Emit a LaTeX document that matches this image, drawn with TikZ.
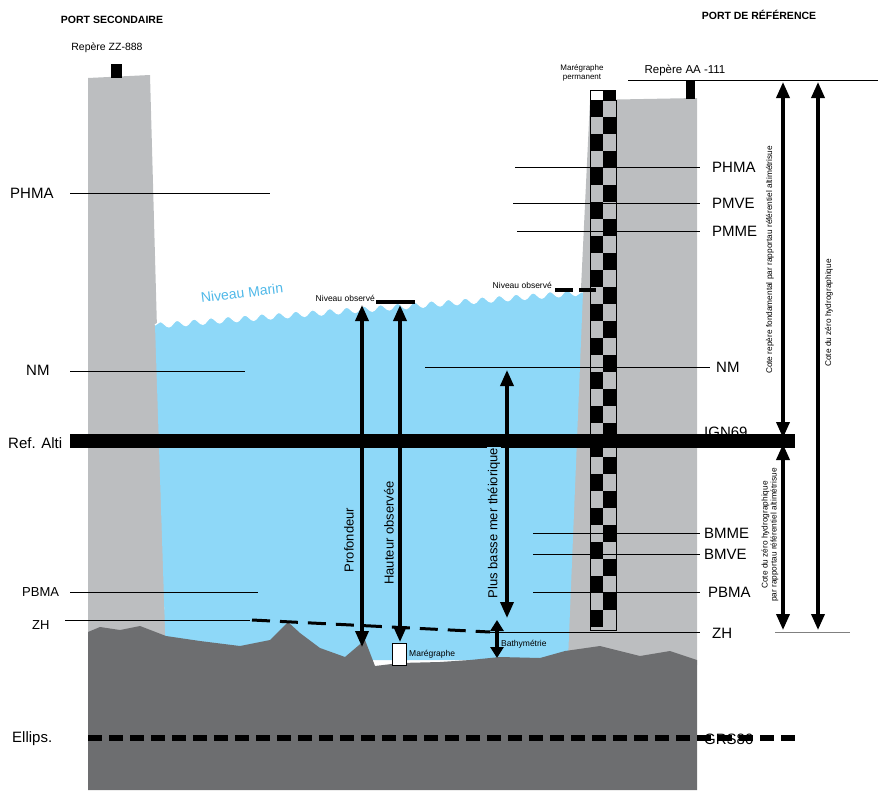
\documentclass[tikz,border=0pt]{standalone}
\usepackage{fontspec}
\setmainfont{Liberation Sans}
\usetikzlibrary{arrows.meta,decorations.pathmorphing}
\definecolor{wall}{HTML}{BCBEC0}
\definecolor{bed}{HTML}{6D6E70}
\definecolor{sea}{HTML}{8ED8F8}
\definecolor{seatxt}{HTML}{4FB8E8}
\tikzset{
 lvl/.style={line width=0.7pt},
 lab/.style={font=\fontsize{15}{15}\selectfont,inner sep=0pt},
 small/.style={font=\fontsize{8.5}{9}\selectfont,inner sep=1pt},
 bigarrow/.style={line width=3.5pt,{Triangle[width=13pt,length=16pt]}-{Triangle[width=13pt,length=16pt]}},
 rot/.style={rotate=90,inner sep=1pt}
}
\begin{document}
\begin{tikzpicture}[x=1pt,y=-1pt]
\useasboundingbox (0,0) rectangle (884,809);
% walls
\fill[wall] (88,78) -- (150,75) -- (166,655) -- (88,655) -- cycle;
\fill[wall] (590,100) -- (697,98) -- (697,665) -- (563,665) -- cycle;
% water
\fill[sea] decorate[decoration={snake,segment length=17,amplitude=3}]{(155,325) -- (583,292)} -- (568,660) -- (166,660) -- cycle;
\draw[white,line width=1.2pt] decorate[decoration={snake,segment length=17,amplitude=3}]{(155,325) -- (583,292)};
% seabed
\fill[bed] (88,632) -- (100,627) -- (120,630) -- (140,626) -- (166,636) -- (200,641) -- (240,646) -- (270,640) -- (288,622) -- (300,633) -- (320,648) -- (345,657) -- (365,640) -- (375,666) -- (400,663) -- (440,662) -- (470,660) -- (500,657) -- (540,658) -- (565,651) -- (600,646) -- (640,656) -- (670,651) -- (697,660) -- (697,790) -- (88,790) -- cycle;
% marker ZZ-888
\node (zz) [fill=black,minimum width=11pt,minimum height=14pt,inner sep=0pt] at (116.5,71) {};
\node (aa) [fill=black,minimum width=9pt,minimum height=18pt,inner sep=0pt] at (690.5,90) {};
% tide staff
\fill[white] (590,90) rectangle (603,100);
\draw[black,line width=0.5pt] (590,90) rectangle (603,100);
\fill[black] (603,90) rectangle (616,100);
\foreach \i in {0,...,30}{
  \pgfmathsetmacro{\ya}{100+17*\i}
  \pgfmathsetmacro{\yb}{min(100+17*(\i+1),630)}
  \ifodd\i
    \fill[black] (603,\ya) rectangle (616,\yb);
    \fill[wall] (590,\ya) rectangle (603,\yb);
  \else
    \fill[black] (590,\ya) rectangle (603,\yb);
    \fill[wall] (603,\ya) rectangle (616,\yb);
  \fi
}
\draw[line width=0.6pt] (590,100) rectangle (616,630);
% level lines left
\draw[lvl] (70,193) -- (270,193);
\draw[lvl] (70,371) -- (245,371);
\draw[lvl] (70,592) -- (258,592);
\draw[lvl] (65,620) -- (250,620);
\draw[line width=3pt,dash pattern=on 18pt off 10pt] (252,620) -- (490,632);
\draw[lvl] (490,632) -- (700,632);
% right lines
\draw[lvl] (515,167) -- (700,167);
\draw[lvl] (513,203) -- (700,203);
\draw[lvl] (517,231) -- (700,231);
\draw[lvl] (425,367) -- (710,367);
\draw[lvl] (533,533) -- (700,533);
\draw[lvl] (533,554) -- (700,554);
\draw[lvl] (533,592) -- (700,592);
\draw[lvl] (628,80) -- (878,80);
\draw[gray,line width=0.8pt] (775,632) -- (850,632);
% reference bars
\draw[line width=14pt] (70,441) -- (795,441);
\draw[line width=6pt,dash pattern=on 14pt off 7pt] (88,738) -- (795,738);
% observed levels
\draw[line width=4pt] (376,302) -- (415,302);
\draw[line width=4pt] (555,290) -- (573,290);
\draw[line width=4pt] (579,290) -- (596,290);
% maregraphe
\node (mg) [draw=black,fill=white,minimum width=14pt,minimum height=22pt,inner sep=0pt,line width=0.5pt] at (399,654) {};
% arrows
\coordinate (p1) at (362,305); \coordinate (p2) at (362,647);
\coordinate (h1) at (400,305); \coordinate (h2) at (400,642);
\coordinate (b1) at (507,370); \coordinate (b2) at (507,618);
\coordinate (t1) at (497,620); \coordinate (t2) at (497,658);
\coordinate (r1) at (783,82); \coordinate (r2) at (783,438);
\coordinate (r3) at (783,444); \coordinate (r4) at (783,630);
\coordinate (c1) at (818,82); \coordinate (c2) at (818,630);
\draw[bigarrow] (p1) -- (p2);
\draw[bigarrow] (h1) -- (h2);
\draw[bigarrow] (b1) -- (b2);
\draw[line width=3.5pt,{Triangle[width=13pt,length=11pt]}-{Triangle[width=13pt,length=11pt]}] (t1) -- (t2);
\draw[bigarrow] (r1) -- (r2);
\draw[bigarrow] (r3) -- (r4);
\draw[bigarrow] (c1) -- (c2);
% texts
\node[font=\bfseries\fontsize{10.5}{11}\selectfont] (t_ps) at (112,20) {PORT SECONDAIRE};
\node[font=\bfseries\fontsize{10.5}{11}\selectfont] (t_pr) at (759,15) {PORT DE RÉFÉRENCE};
\node[font=\fontsize{10.5}{11}\selectfont] (t_zz) at (107,48) {Repère ZZ-888};
\node[font=\fontsize{11.5}{12}\selectfont] (t_aa) at (685,70) {Repère AA -111};
\node[small,align=center,font=\fontsize{8}{9}\selectfont] (t_mp) at (582,73) {Marégraphe\\permanent};
\node[lab,anchor=west] at (10,193) {PHMA};
\node[lab,anchor=west] at (26,370) {NM};
\node[lab,anchor=west] at (8,443) {Ref. Alti};
\node[lab,anchor=west,font=\fontsize{13}{13}\selectfont] at (22,592) {PBMA};
\node[lab,anchor=west,font=\fontsize{13}{13}\selectfont] at (32,625) {ZH};
\node[lab,anchor=west] at (12,739) {Ellips.};
\node[lab,anchor=west] at (712,167) {PHMA};
\node[lab,anchor=west] at (712,203) {PMVE};
\node[lab,anchor=west] at (712,231) {PMME};
\node[lab,anchor=west] at (716,367) {NM};
\node[lab,anchor=west] at (704,432) {IGN69};
\node[lab,anchor=west] at (704,533) {BMME};
\node[lab,anchor=west] at (704,554) {BMVE};
\node[lab,anchor=west] at (708,592) {PBMA};
\node[lab,anchor=west] at (712,633) {ZH};
\node[lab,anchor=west] at (704,739) {GRS80};
\node[font=\fontsize{14}{14}\selectfont,text=seatxt,rotate=7] at (242,293) {Niveau Marin};
\node[small,anchor=east] at (376,298) {Niveau observé};
\node[small,anchor=east] at (553,285) {Niveau observé};
\node[small,anchor=west] at (408,654) {Marégraphe};
\node[small,anchor=west] at (500,644) {Bathymétrie};
\node[rot,font=\fontsize{13}{13}\selectfont,fill=sea] at (349,540) {Profondeur};
\node[rot,font=\fontsize{13}{13}\selectfont,fill=sea] at (389,533) {Hauteur observée};
\node[rot,font=\fontsize{13}{13}\selectfont,fill=sea] at (494,523) {Plus basse mer théiorique};
\node[rot,font=\fontsize{8.3}{9}\selectfont] at (770,260) {Cote repère fondamental par rapportau référentiel altimétrisue};
\node[rot,font=\fontsize{8.3}{9}\selectfont] at (829,313) {Cote du zéro hydrographique};
\node[rot,font=\fontsize{8.3}{9}\selectfont,align=center] at (770,535) {Cote du zéro hydrographique\\par rapportau référentiel altimétrisue};
\end{tikzpicture}
\end{document}
